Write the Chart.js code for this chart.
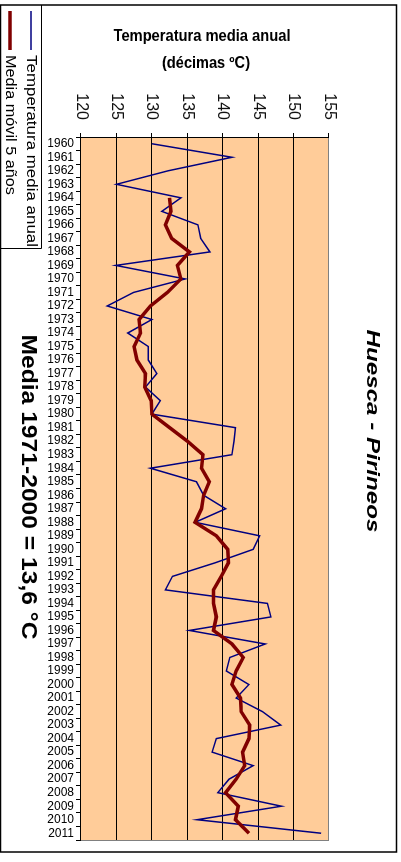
<!DOCTYPE html>
<html lang="es">

<head>
    <meta charset="UTF-8">
    <title>Huesca - Pirineos</title>
    <script src="https://cdn.jsdelivr.net/npm/chart.js"></script>
    <style>
        html, body {
            margin: 0;
            padding: 0;
            background: #fff;
            overflow: hidden;
        }

        /* el gráfico original está girado 90° en sentido horario */
        #wrap {
            position: absolute;
            left: 0;
            top: 0;
            width: 862px;
            height: 401px;
            transform-origin: 0 0;
            transform: translate(401px, 0) rotate(90deg);
        }
    </style>
</head>

<body>
    <div id="wrap">
        <canvas id="chart" width="862" height="401"></canvas>
    </div>

    <script>
        // datos (décimas de ºC)
        const years = ['1960', '1961', '1962', '1963', '1964', '1965', '1966', '1967', '1968', '1969',
            '1970', '1971', '1972', '1973', '1974', '1975', '1976', '1977', '1978', '1979',
            '1980', '1981', '1982', '1983', '1984', '1985', '1986', '1987', '1988', '1989',
            '1990', '1991', '1992', '1993', '1994', '1995', '1996', '1997', '1998', '1999',
            '2000', '2001', '2002', '2003', '2004', '2005', '2006', '2007', '2008', '2009',
            '2010', '2011'];

        const tempAnual = [130.0, 141.3, 132.3, 125.0, 134.1, 131.4, 136.5, 136.9, 138.2, 124.9,
            134.7, 127.4, 123.7, 130.0, 126.6, 129.5, 129.5, 130.7, 129.1, 131.2,
            130.0, 141.8, 141.6, 141.3, 129.8, 136.3, 137.3, 140.4, 136.1, 145.2,
            144.3, 138.9, 132.9, 131.9, 146.3, 146.8, 135.3, 146.0, 141.0, 140.5,
            143.7, 141.9, 145.6, 148.2, 139.1, 138.5, 144.3, 140.9, 139.3, 148.3,
            136.4, 153.9];

        const mediaMovil = [null, null, null, null, 132.5, 132.7, 131.9, 132.8, 135.3, 133.6,
            134.1, 132.2, 129.8, 128.2, 128.4, 127.5, 127.9, 129.1, 129.0, 129.9,
            130.0, 132.5, 135.0, 137.2, 137.0, 138.1, 137.3, 137.0, 136.1, 139.1,
            140.7, 140.8, 139.8, 138.7, 138.7, 139.1, 138.7, 141.3, 142.9, 141.9,
            141.3, 142.5, 142.6, 143.8, 143.7, 142.8, 143.1, 141.9, 140.4, 142.2,
            141.8, 143.7];

        const valueTicks = [120, 125, 130, 135, 140, 145, 150, 155];

        const FONT = 'Arial, "Liberation Sans", sans-serif';
        Chart.defaults.font.family = FONT;

        // texto con ancho forzado (el original está estirado)
        function txt(ctx, s, x, y, font, w, hs, rot, align) {
            ctx.save();
            ctx.translate(x, y);
            if (rot) ctx.rotate(rot);
            ctx.font = font;
            const m = ctx.measureText(s).width;
            ctx.scale(w ? w / m : 1, hs || 1);
            ctx.textAlign = align || 'center';
            ctx.textBaseline = 'middle';
            ctx.fillStyle = '#000';
            ctx.fillText(s, 0, 0);
            ctx.restore();
        }

        const decor = {
            id: 'decor',
            beforeDraw(chart) {
                const ctx = chart.ctx;
                const a = chart.chartArea;
                ctx.save();
                ctx.fillStyle = '#fff';
                ctx.fillRect(0, 0, chart.width, chart.height);
                ctx.fillStyle = '#FFCC99';
                ctx.fillRect(a.left, a.top, a.right - a.left, a.bottom - a.top);
                ctx.restore();
            },
            afterDraw(chart) {
                const ctx = chart.ctx;
                const a = chart.chartArea;
                ctx.save();

                // borde derecho del área de trazado
                ctx.strokeStyle = '#808080';
                ctx.lineWidth = 1;
                ctx.beginPath();
                ctx.moveTo(a.right + 0.5, a.top);
                ctx.lineTo(a.right + 0.5, a.bottom);
                ctx.stroke();

                // marco exterior
                ctx.strokeStyle = '#000';
                ctx.lineWidth = 1.5;
                ctx.strokeRect(5, 4.5, 847, 396);

                // caja de la leyenda
                ctx.lineWidth = 1;
                ctx.beginPath();
                ctx.moveTo(5, 359.5);
                ctx.lineTo(248.5, 359.5);
                ctx.lineTo(248.5, 401);
                ctx.stroke();

                ctx.strokeStyle = '#000080';
                ctx.lineWidth = 1.5;
                ctx.beginPath();
                ctx.moveTo(11, 370);
                ctx.lineTo(50, 370);
                ctx.stroke();

                ctx.strokeStyle = '#800000';
                ctx.lineWidth = 3.5;
                ctx.beginPath();
                ctx.moveTo(11, 391);
                ctx.lineTo(50, 391);
                ctx.stroke();
                ctx.restore();

                txt(ctx, 'Temperatura media anual', 55, 370, '14px ' + FONT, 192, 1, 0, 'left');
                txt(ctx, 'Media móvil 5 años', 55, 391, '14px ' + FONT, 140, 1, 0, 'left');

                // títulos
                txt(ctx, 'Huesca - Pirineos', 431, 29, 'italic bold 18px ' + FONT, 203, 1);
                txt(ctx, 'Media 1971-2000 = 13,6 °C', 487, 373, 'bold 22px ' + FONT, 305, 1);

                // título del eje (horizontal en la imagen final)
                txt(ctx, 'Temperatura media anual', 37, 199, 'bold 13px ' + FONT, 177, 1.2, -Math.PI / 2);
                txt(ctx, '(décimas ºC)', 64, 195, 'bold 13px ' + FONT, 88, 1.2, -Math.PI / 2);
            }
        };

        new Chart(document.getElementById('chart'), {
            type: 'line',
            data: {
                labels: years,
                datasets: [{
                    label: 'Media móvil 5 años',
                    data: mediaMovil,
                    borderColor: '#800000',
                    borderWidth: 3.5,
                    pointRadius: 0,
                    tension: 0,
                    order: 0
                }, {
                    label: 'Temperatura media anual',
                    data: tempAnual,
                    borderColor: '#000080',
                    borderWidth: 1.5,
                    pointRadius: 0,
                    tension: 0,
                    order: 1
                }]
            },
            options: {
                responsive: false,
                animation: false,
                devicePixelRatio: 1,
                layout: {
                    padding: { left: 0, top: 72, right: 22, bottom: 41 }
                },
                plugins: {
                    legend: { display: false },
                    title: { display: false },
                    tooltip: { enabled: false }
                },
                scales: {
                    x: {
                        type: 'category',
                        offset: true,
                        afterFit: s => { s.height = 40; },
                        grid: {
                            offset: true,
                            drawOnChartArea: false,
                            tickLength: 5,
                            tickColor: '#000'
                        },
                        border: { color: '#000', width: 1 },
                        ticks: {
                            autoSkip: false,
                            minRotation: 90,
                            maxRotation: 90,
                            padding: 2,
                            color: '#000',
                            font: { size: 12 }
                        }
                    },
                    y: {
                        min: 120,
                        max: 155,
                        afterFit: s => { s.width = 137; },
                        afterBuildTicks: s => { s.ticks = valueTicks.map(v => ({ value: v })); },
                        grid: {
                            color: c => (c.tick && c.tick.value === 155) ? '#808080' : '#000',
                            tickColor: '#000',
                            tickLength: 4,
                            lineWidth: 1
                        },
                        border: { color: '#000', width: 1 },
                        ticks: {
                            padding: 13,
                            color: '#111',
                            font: { size: 16 }
                        }
                    }
                }
            },
            plugins: [decor]
        });
    </script>
</body>

</html>
